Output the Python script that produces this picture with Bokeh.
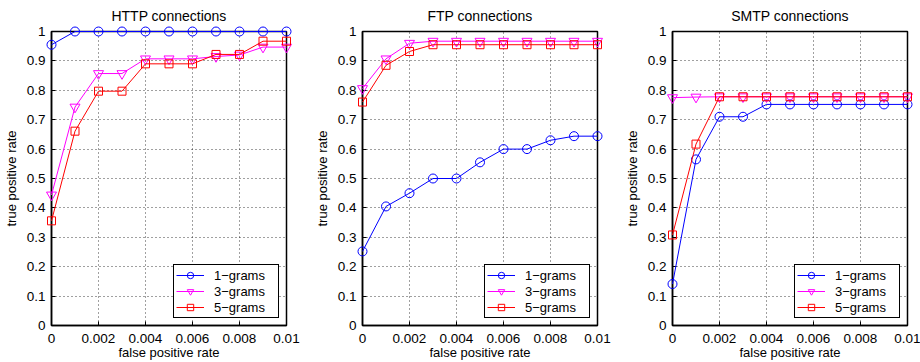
from bokeh.plotting import figure
from bokeh.layouts import row
from bokeh.models import FixedTicker, Range1d, Legend, LegendItem
from bokeh.embed import file_html
from bokeh.resources import INLINE

# ---------------- data ----------------
fpr = [0.0, 0.001, 0.002, 0.003, 0.004, 0.005, 0.006, 0.007, 0.008, 0.009, 0.01]

x_ticks = [0.0, 0.002, 0.004, 0.006, 0.008, 0.01]
x_tick_labels = ["0", "0.002", "0.004", "0.006", "0.008", "0.01"]
y_ticks = [0.0, 0.1, 0.2, 0.3, 0.4, 0.5, 0.6, 0.7, 0.8, 0.9, 1.0]
y_tick_labels = ["0", "0.1", "0.2", "0.3", "0.4", "0.5", "0.6", "0.7", "0.8", "0.9", "1"]

series_names = ["1\u2212grams", "3\u2212grams", "5\u2212grams"]
panel_titles = ["HTTP connections", "FTP connections", "SMTP connections"]

http_1 = [0.955, 1.0, 1.0, 1.0, 1.0, 1.0, 1.0, 1.0, 1.0, 1.0, 1.0]
http_3 = [0.444, 0.743, 0.857, 0.857, 0.907, 0.907, 0.907, 0.915, 0.92, 0.947, 0.947]
http_5 = [0.356, 0.661, 0.797, 0.797, 0.890, 0.890, 0.890, 0.922, 0.922, 0.967, 0.967]

ftp_1 = [0.252, 0.405, 0.450, 0.500, 0.500, 0.555, 0.600, 0.600, 0.630, 0.644, 0.644]
ftp_3 = [0.806, 0.907, 0.960, 0.967, 0.967, 0.967, 0.967, 0.967, 0.967, 0.967, 0.967]
ftp_5 = [0.760, 0.885, 0.932, 0.955, 0.955, 0.955, 0.955, 0.955, 0.955, 0.955, 0.955]

smtp_1 = [0.141, 0.565, 0.710, 0.710, 0.752, 0.752, 0.752, 0.752, 0.752, 0.752, 0.752]
smtp_3 = [0.775, 0.777, 0.778, 0.778, 0.778, 0.778, 0.778, 0.778, 0.778, 0.778, 0.778]
smtp_5 = [0.308, 0.617, 0.778, 0.778, 0.778, 0.778, 0.778, 0.778, 0.778, 0.778, 0.778]

panels = [
    (http_1, http_3, http_5),
    (ftp_1, ftp_3, ftp_5),
    (smtp_1, smtp_3, smtp_5),
]

# ---------------- style ----------------
FONT = "Liberation Sans"
colors = ["#0000ff", "#ff00ff", "#ff0000"]
markers = ["circle", "inverted_triangle", "square"]
msizes = [9, 10, 8]
widths = [306, 307, 307]
left_b = [51, 56, 59]
right_b = [20, 16, 13]


def style_axis(ax):
    ax.axis_line_color = "black"
    ax.axis_line_width = 1.5
    ax.major_tick_line_color = "black"
    ax.major_tick_in = 4
    ax.major_tick_out = 0
    ax.minor_tick_line_color = None
    ax.major_label_text_font = FONT
    ax.major_label_text_font_size = "13.5px"
    ax.major_label_text_color = "black"
    ax.axis_label_text_font = FONT
    ax.axis_label_text_font_size = "13px"
    ax.axis_label_text_font_style = "normal"
    ax.axis_label_text_color = "black"


figs = []
for i, (series, title) in enumerate(zip(panels, panel_titles)):
    p = figure(
        width=widths[i], height=362,
        x_range=Range1d(0, 0.01), y_range=Range1d(0, 1),
        output_backend="svg", toolbar_location=None,
        min_border_left=left_b[i], min_border_right=right_b[i],
        min_border_top=31, min_border_bottom=36,
        title=title,
    )
    p.title.text_font = FONT
    p.title.text_font_size = "14px"
    p.title.text_font_style = "normal"
    p.title.text_color = "black"
    p.title.align = "center"
    p.title.vertical_align = "top"
    p.title.standoff = 12
    p.outline_line_color = "black"
    p.outline_line_width = 1.5
    p.outline_line_alpha = 1.0
    p.background_fill_color = "white"
    p.border_fill_color = "white"

    p.xaxis.ticker = FixedTicker(ticks=x_ticks)
    p.yaxis.ticker = FixedTicker(ticks=y_ticks)
    p.xaxis.major_label_overrides = dict(zip(x_ticks, x_tick_labels))
    p.yaxis.major_label_overrides = dict(zip(y_ticks, y_tick_labels))
    p.xaxis.axis_label = "false positive rate"
    p.yaxis.axis_label = "true positive rate"
    style_axis(p.xaxis[0])
    style_axis(p.yaxis[0])
    p.xaxis.major_label_standoff = 8
    p.xaxis.axis_label_standoff = -1
    p.yaxis.major_label_standoff = 6
    p.yaxis.axis_label_standoff = 5

    p.xgrid.ticker = FixedTicker(ticks=x_ticks)
    p.ygrid.ticker = FixedTicker(ticks=y_ticks)
    for g in (p.xgrid[0], p.ygrid[0]):
        g.grid_line_color = "black"
        g.grid_line_alpha = 0.75
        g.grid_line_dash = "1 3"
        g.grid_line_width = 1

    items = []
    for k, ys in enumerate(series):
        lr = p.line(fpr, ys, line_color=colors[k], line_width=1, level="overlay")
        sr = p.scatter(fpr, ys, marker=markers[k], size=msizes[k],
                       line_color=colors[k], fill_color=None, line_width=1,
                       level="overlay")
        items.append(LegendItem(label=series_names[k], renderers=[lr, sr]))

    leg = Legend(items=items, location="bottom_right")
    leg.margin = 7
    leg.padding = 2
    leg.spacing = 0
    leg.label_height = 16
    leg.glyph_height = 16
    leg.glyph_width = 28
    leg.label_standoff = 10
    leg.label_width = 62
    leg.label_text_font = FONT
    leg.label_text_font_size = "13px"
    leg.label_text_color = "black"
    leg.border_line_color = "black"
    leg.border_line_width = 1.5
    leg.border_line_alpha = 1.0
    leg.background_fill_color = "white"
    leg.background_fill_alpha = 1.0
    p.add_layout(leg)

    figs.append(p)

layout = row(*figs, spacing=0)
open("out.html", "w").write(file_html(layout, INLINE))
